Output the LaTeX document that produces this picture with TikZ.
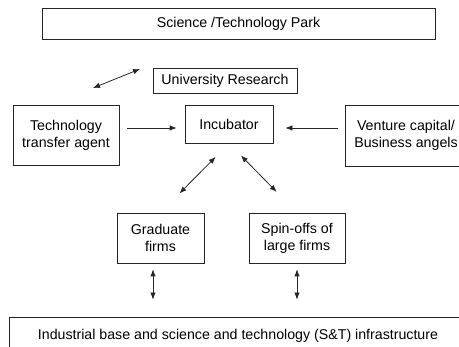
\documentclass[tikz,border=0pt]{standalone}
\usepackage{fontspec}
\setmainfont{Liberation Sans}
\usetikzlibrary{arrows.meta}

\begin{document}
\begin{tikzpicture}[x=1pt,y=-1pt]
\tikzset{box/.style = {shape=rectangle,draw=black!85,line width=0.8pt,inner sep=2pt,align=center,font=\fontsize{14.2}{17}\selectfont}}
\tikzset{edge/.style = {<->,> = {Latex[length=7pt,width=5.5pt]},line width=0.8pt,black!85}}
\useasboundingbox (0,0) rectangle (459,347);
% boxes
\node[box,minimum width=393pt,minimum height=31pt] (park) at (238.5,23.5) {Science /Technology Park};
\node[box,minimum width=144pt,minimum height=25pt] (univ) at (225,80.5) {University Research};
\node[box,minimum width=106pt,minimum height=60pt] (tta) at (66,135.5) {Technology\\transfer agent};
\node[box,minimum width=88pt,minimum height=38pt] (incub) at (229,124) {Incubator};
\node[box,minimum width=122pt,minimum height=61pt] (vc) at (406,135.5) {Venture capital/\\Business angels};
\node[box,minimum width=87pt,minimum height=50pt] (grad) at (160.5,238) {Graduate\\firms};
\node[box,minimum width=96pt,minimum height=50pt] (spin) at (297,238) {Spin-offs of\\large firms};
\node[box,minimum width=458pt,minimum height=38pt] (infra) at (238,336) {Industrial base and science and technology (S\&T) infrastructure};

\coordinate (ua) at (93,88);
\coordinate (ub) at (140,69);

%edges
\draw[edge] (ua) -- (ub);
\draw[edge,->] ([xshift=8pt,yshift=-4pt]tta.east |- incub.west) -- ([xshift=-8pt,yshift=-4pt]incub.west);
\draw[edge,->] ([xshift=-7pt,yshift=-4pt]vc.west |- incub.east) -- ([xshift=12pt,yshift=-4pt]incub.east);
\draw[edge,shorten <=19pt,shorten >=27pt] (incub.south) -- (grad.north);
\draw[edge,shorten <=17pt,shorten >=29pt] (incub.south) -- (spin.north);
\draw[edge,shorten <=6pt,shorten >=17pt] ([xshift=-7.5pt]grad.south) -- ([xshift=-7.5pt]grad.south |- infra.north);
\draw[edge,shorten <=6pt,shorten >=17pt] (spin.south) -- (spin.south |- infra.north);

\end{tikzpicture}
\end{document}
